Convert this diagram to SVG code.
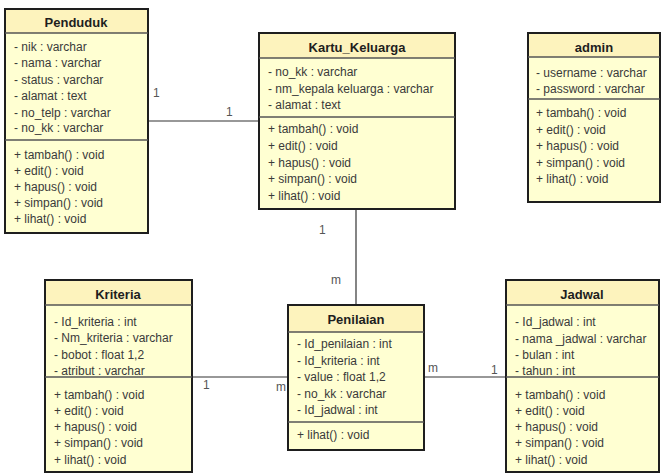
<svg xmlns="http://www.w3.org/2000/svg" width="662" height="473" viewBox="0 0 662 473">
<style>
.box{fill:#ffffd2;stroke:#1e1e1e;stroke-width:2}
.hd{fill:#fdf3bd}
.sep{stroke:#555;stroke-width:1.3}
.t{font-family:"Liberation Sans",Arial,sans-serif;font-size:12px;fill:#3a3a3a}
.ti{font-family:"Liberation Sans",Arial,sans-serif;font-size:13px;font-weight:bold;fill:#1e1e1e;text-anchor:middle}
.c{stroke:#333;stroke-width:1.2;fill:none}
.l{font-family:"Liberation Sans",Arial,sans-serif;font-size:12px;fill:#555}
</style>
<rect width="662" height="473" fill="#ffffff"/>
<g id="connectors">
<line class="c" x1="148" y1="121" x2="259" y2="121"/>
<line class="c" x1="356" y1="209" x2="356" y2="305"/>
<line class="c" x1="192" y1="377" x2="288" y2="377"/>
<line class="c" x1="424" y1="377" x2="506" y2="377"/>
<text class="l" x="153" y="97">1</text>
<text class="l" x="226" y="116">1</text>
<text class="l" x="319" y="234">1</text>
<text class="l" x="331" y="284">m</text>
<text class="l" x="203" y="389">1</text>
<text class="l" x="276" y="391">m</text>
<text class="l" x="428" y="372">m</text>
<text class="l" x="491" y="374">1</text>
</g>
<g id="Penduduk">
<rect class="box" x="5" y="9" width="143" height="224"/>
<rect class="hd" x="6" y="10" width="141" height="23"/>
<line class="sep" x1="5" y1="33" x2="148" y2="33"/>
<line class="sep" x1="5" y1="140" x2="148" y2="140"/>
<text class="ti" x="76" y="27">Penduduk</text>
<text class="t" x="14" y="51">- nik : varchar</text>
<text class="t" x="14" y="67">- nama : varchar</text>
<text class="t" x="14" y="84">- status : varchar</text>
<text class="t" x="14" y="100">- alamat : text</text>
<text class="t" x="14" y="117">- no_telp : varchar</text>
<text class="t" x="14" y="132">- no_kk : varchar</text>
<text class="t" x="14" y="159">+ tambah() : void</text>
<text class="t" x="14" y="175">+ edit() : void</text>
<text class="t" x="14" y="191">+ hapus() : void</text>
<text class="t" x="14" y="207">+ simpan() : void</text>
<text class="t" x="14" y="223">+ lihat() : void</text>
</g>
<g id="Kartu_Keluarga">
<rect class="box" x="259" y="33" width="196" height="176"/>
<rect class="hd" x="260" y="34" width="194" height="24"/>
<line class="sep" x1="259" y1="58" x2="455" y2="58"/>
<line class="sep" x1="259" y1="117" x2="455" y2="117"/>
<text class="ti" x="357" y="52">Kartu_Keluarga</text>
<text class="t" x="268" y="76">- no_kk : varchar</text>
<text class="t" x="268" y="93">- nm_kepala keluarga : varchar</text>
<text class="t" x="268" y="109">- alamat : text</text>
<text class="t" x="268" y="133">+ tambah() : void</text>
<text class="t" x="268" y="150">+ edit() : void</text>
<text class="t" x="268" y="167">+ hapus() : void</text>
<text class="t" x="268" y="183">+ simpan() : void</text>
<text class="t" x="268" y="200">+ lihat() : void</text>
</g>
<g id="admin">
<rect class="box" x="528" y="33" width="132" height="169"/>
<rect class="hd" x="529" y="34" width="130" height="23"/>
<line class="sep" x1="528" y1="57" x2="660" y2="57"/>
<line class="sep" x1="528" y1="99" x2="660" y2="99"/>
<text class="ti" x="594" y="52">admin</text>
<text class="t" x="536" y="77">- username : varchar</text>
<text class="t" x="536" y="93">- password : varchar</text>
<text class="t" x="536" y="117">+ tambah() : void</text>
<text class="t" x="536" y="134">+ edit() : void</text>
<text class="t" x="536" y="150">+ hapus() : void</text>
<text class="t" x="536" y="167">+ simpan() : void</text>
<text class="t" x="536" y="183">+ lihat() : void</text>
</g>
<g id="Kriteria">
<rect class="box" x="45" y="280" width="147" height="192"/>
<rect class="hd" x="46" y="281" width="145" height="24"/>
<line class="sep" x1="45" y1="305" x2="192" y2="305"/>
<line class="sep" x1="45" y1="377" x2="192" y2="377"/>
<text class="ti" x="118" y="299">Kriteria</text>
<text class="t" x="54" y="326">- Id_kriteria : int</text>
<text class="t" x="54" y="342">- Nm_kriteria : varchar</text>
<text class="t" x="54" y="359">- bobot : float 1,2</text>
<text class="t" x="54" y="375">- atribut : varchar</text>
<text class="t" x="54" y="399">+ tambah() : void</text>
<text class="t" x="54" y="415">+ edit() : void</text>
<text class="t" x="54" y="431">+ hapus() : void</text>
<text class="t" x="54" y="447">+ simpan() : void</text>
<text class="t" x="54" y="464">+ lihat() : void</text>
</g>
<g id="Penilaian">
<rect class="box" x="288" y="305" width="136" height="145"/>
<rect class="hd" x="289" y="306" width="134" height="26"/>
<line class="sep" x1="288" y1="332" x2="424" y2="332"/>
<line class="sep" x1="288" y1="422" x2="424" y2="422"/>
<text class="ti" x="356" y="324">Penilaian</text>
<text class="t" x="297" y="348">- Id_penilaian : int</text>
<text class="t" x="297" y="365">- Id_kriteria : int</text>
<text class="t" x="297" y="381">- value : float 1,2</text>
<text class="t" x="297" y="398">- no_kk : varchar</text>
<text class="t" x="297" y="414">- Id_jadwal : int</text>
<text class="t" x="297" y="439">+ lihat() : void</text>
</g>
<g id="Jadwal">
<rect class="box" x="506" y="280" width="153" height="192"/>
<rect class="hd" x="507" y="281" width="151" height="24"/>
<line class="sep" x1="506" y1="305" x2="659" y2="305"/>
<line class="sep" x1="506" y1="377" x2="659" y2="377"/>
<text class="ti" x="582" y="299">Jadwal</text>
<text class="t" x="515" y="326">- Id_jadwal : int</text>
<text class="t" x="515" y="343">- nama _jadwal : varchar</text>
<text class="t" x="515" y="359">- bulan : int</text>
<text class="t" x="515" y="375">- tahun : int</text>
<text class="t" x="515" y="399">+ tambah() : void</text>
<text class="t" x="515" y="415">+ edit() : void</text>
<text class="t" x="515" y="431">+ hapus() : void</text>
<text class="t" x="515" y="447">+ simpan() : void</text>
<text class="t" x="515" y="464">+ lihat() : void</text>
</g>
</svg>
